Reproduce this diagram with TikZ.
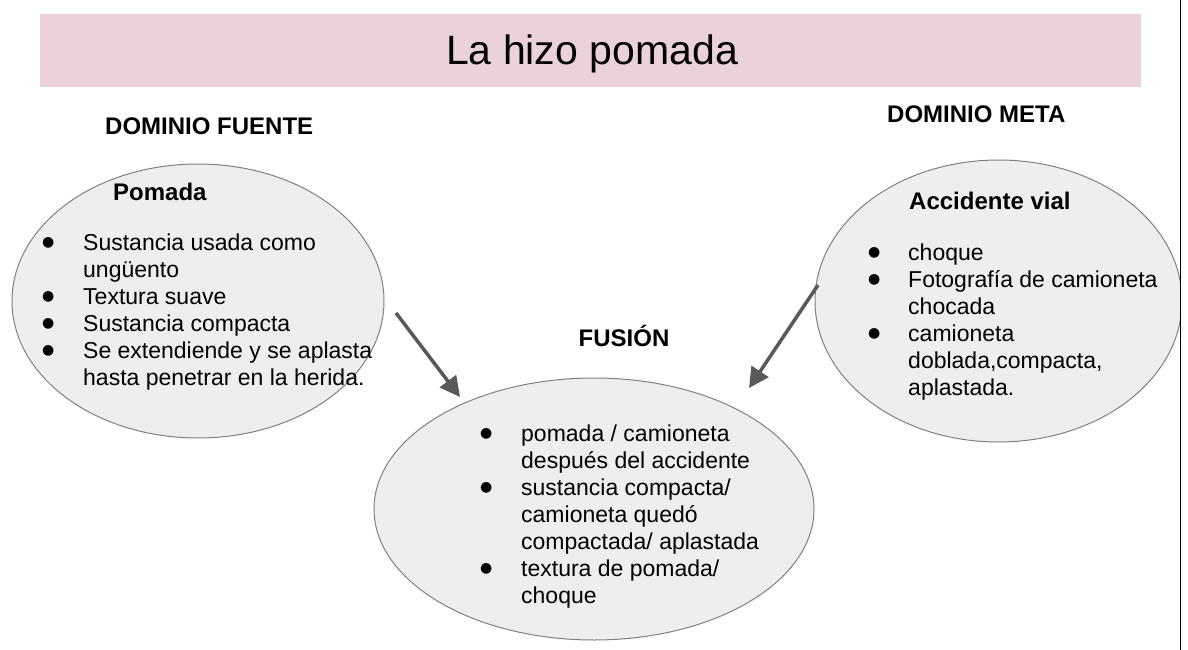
\documentclass[tikz,border=0pt]{standalone}
\usepackage{fontspec}
\setmainfont{Liberation Sans}
\newfontfamily\dejavu{DejaVu Sans}
\usetikzlibrary{shapes.geometric,arrows.meta}
\definecolor{pinkbar}{HTML}{EAD1DC}
\definecolor{ellfill}{HTML}{EEEEEE}
\definecolor{elldraw}{HTML}{808080}
\definecolor{arrgray}{HTML}{595959}
\newcommand{\bigbul}{\raisebox{4pt}{\dejavu\fontsize{14}{14}\selectfont ●}}
\begin{document}
\begin{tikzpicture}[x=1pt,y=-1pt,
  bubble/.style={ellipse, draw=elldraw, fill=ellfill, line width=1pt, inner sep=0pt},
  body/.style={anchor=base west, inner sep=0pt, font=\fontsize{23}{27}\selectfont},
  head/.style={inner sep=0pt, font=\fontsize{24}{27}\selectfont\bfseries},
  arr/.style={draw=arrgray, line width=3.5pt, -{Triangle[length=20pt,width=20pt]}}]
\useasboundingbox (0,0) rectangle (1188,650);
\node[fill=pinkbar, minimum width=1101pt, minimum height=73pt, inner sep=0pt, anchor=north west] (bar) at (40,14) {};
\node[anchor=base, font=\fontsize{41}{48}\selectfont, inner sep=0pt] (title) at (592,65) {La hizo pomada};

\node[head, anchor=base west] (hsrc) at (105,135) {DOMINIO FUENTE};
\node[head, anchor=base west] (htgt) at (887,123) {DOMINIO META};

\node[bubble, minimum width=372pt, minimum height=274pt] (src) at (198,301) {};
\begin{scope}
  \clip (0,0) rectangle (1180,650);
  \node[bubble, minimum width=367pt, minimum height=282pt] (tgt) at (998.5,301) {};
\end{scope}
\node[bubble, minimum width=440pt, minimum height=262pt] (fus) at (594,509) {};

\node[head, anchor=base west] (psrc) at (113,200) {Pomada};
\node[body] (lsrc) at (42,250) {\begin{tabular}[t]{@{}p{41pt}@{}l@{}}
\bigbul & Sustancia usada como\\
 & ungüento\\
\bigbul & Textura suave\\
\bigbul & Sustancia compacta\\
\bigbul & Se extendiende y se aplasta\\
 & hasta penetrar en la herida.
\end{tabular}};

\node[head, anchor=base west] (ptgt) at (909,209) {Accidente vial};
\node[body] (ltgt) at (868,260) {\begin{tabular}[t]{@{}p{40pt}@{}l@{}}
\bigbul & choque\\
\bigbul & Fotografía de camioneta\\
 & chocada\\
\bigbul & camioneta\\
 & doblada,compacta,\\
 & aplastada.
\end{tabular}};

\node[head, anchor=base] (hfus) at (624,346) {FUSIÓN};
\node[body] (lfus) at (480,441) {\begin{tabular}[t]{@{}p{41pt}@{}l@{}}
\bigbul & pomada / camioneta\\
 & después del accidente\\
\bigbul & sustancia compacta/\\
 & camioneta quedó\\
 & compactada/ aplastada\\
\bigbul & textura de pomada/\\
 & choque
\end{tabular}};

\coordinate (vtop) at (1180.5,0);
\coordinate (vbot) at (1180.5,650);
\draw[line width=1.5pt] (vtop) -- (vbot);

\coordinate (a1s) at (396,313);
\coordinate (a1e) at (460,397);
\coordinate (a2s) at (818,285);
\coordinate (a2e) at (749,388);
\draw[arr] (a1s) -- (a1e);
\draw[arr] (a2s) -- (a2e);
\end{tikzpicture}
\end{document}
